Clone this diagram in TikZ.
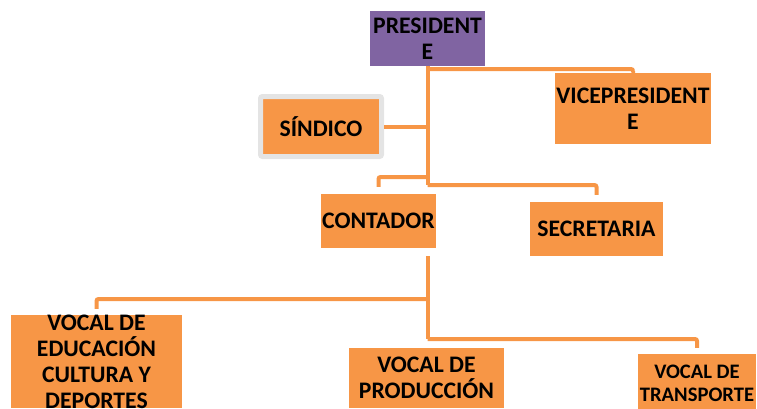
\documentclass[tikz,border=0pt]{standalone}
\usepackage{fontspec}
\setmainfont{Carlito}
\usepackage{xcolor}
\usepackage{tikz}
\usetikzlibrary{positioning}

\definecolor{orgbox}{RGB}{247,150,70}
\definecolor{purbox}{RGB}{128,100,162}
\definecolor{rimgray}{RGB}{228,228,228}

\begin{document}
\begin{tikzpicture}[x=1pt,y=-1pt,inner sep=0pt]
	\tikzstyle{every node}=[font=\fontsize{23.7}{26}\selectfont\bfseries,align=center]
	\tikzstyle{box}=[fill=orgbox]
	\tikzstyle{conn}=[draw=orgbox,line width=4pt,rounded corners=2pt]
	
	\useasboundingbox (0,0) rectangle (757,408);
	
	\node[fill=purbox,minimum width=115pt,minimum height=55pt] (pres) at (427.5,38.5) {PRESIDENT\\E};
	\node[box,minimum width=156pt,minimum height=71pt] (vice) at (633,108.5) {VICEPRESIDENT\\E};
	\node[box,draw=rimgray,line width=5pt,rounded corners=2pt,minimum width=121pt,minimum height=60pt] (sind) at (321,126.5) {SÍNDICO};
	\node[box,minimum width=115pt,minimum height=54pt] (cont) at (378.5,221) {CONTADOR};
	\node[box,minimum width=133pt,minimum height=54pt] (secr) at (596.5,229) {SECRETARIA};
	\node[box,minimum width=171pt,minimum height=93pt] (edu) at (96.5,361.5) {};
	\node (edutxt) at (edu.center) {VOCAL DE\\EDUCACIÓN\\CULTURA Y\\DEPORTES};
	\node[box,minimum width=155pt,minimum height=60pt] (prod) at (426.5,378) {VOCAL DE\\PRODUCCIÓN};
	\node[box,minimum width=118pt,minimum height=58pt,font=\fontsize{20.6}{23}\selectfont\bfseries] (trans) at (697,383) {VOCAL DE\\TRANSPORTE};
	
	\coordinate (top) at (427.5,69);
	\coordinate (forkc) at (427.5,177);
	\coordinate (forks) at (427.5,185);
	\coordinate (low) at (427.5,256);
	\coordinate (lowa) at (427.5,299);
	\coordinate (lowb) at (427.5,339);
	
	\draw[conn] (pres.south) -- (forks);
	\draw[conn,shorten >=2pt] (top) -| (vice.north);
	\draw[conn] (sind.east) -- (sind.east -| pres.south);
	\draw[conn,shorten >=7pt] (forkc) -| (cont.north);
	\draw[conn,shorten >=7pt] (forks) -| (secr.north);
	\draw[conn] (low) -- (lowb);
	\draw[conn,shorten >=6pt] (lowa) -| (edu.north);
	\draw[conn,shorten >=6pt] (lowb) -| (trans.north);
\end{tikzpicture}
\end{document}
